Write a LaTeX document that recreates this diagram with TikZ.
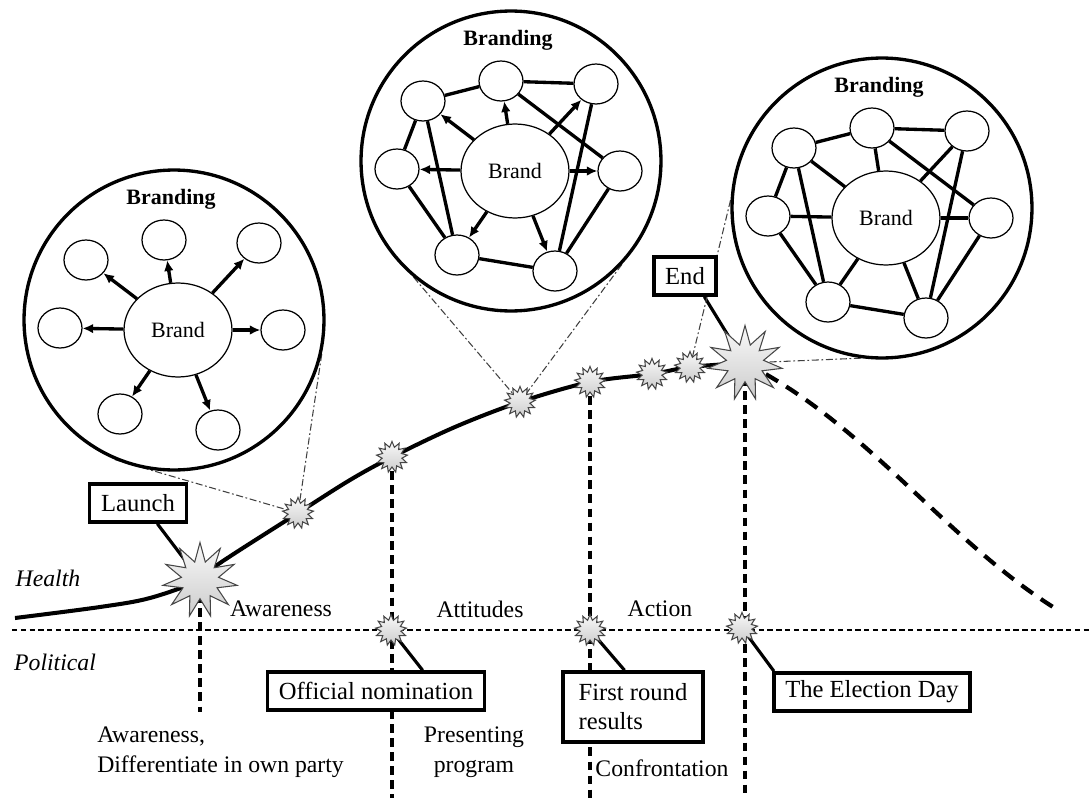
\documentclass[tikz,border=0pt]{standalone}
\usepackage{fontspec}
\setmainfont{Liberation Serif}
\usetikzlibrary{shapes.geometric,arrows.meta,backgrounds}

\begin{document}
\begin{tikzpicture}[x=0.02cm,y=-0.02cm,
  ring/.style={draw,circle,line width=1.9pt,minimum size=6cm,inner sep=0pt},
  brand/.style={draw,ellipse,fill=white,line width=0.7pt,minimum width=2.16cm,minimum height=1.88cm,inner sep=0pt,font=\fontsize{12.5}{14}\selectfont},
  item/.style={draw,ellipse,fill=white,line width=0.7pt,minimum width=0.88cm,minimum height=0.8cm,inner sep=0pt},
  link/.style={line width=1.9pt},
  push/.style={line width=1.9pt,-{Latex[length=6pt,width=5.5pt]}},
  burst/.style={draw=gray!55!black,line width=0.6pt,star,star points=13,star point ratio=1.55,minimum size=0.62cm,inner sep=0pt,top color=gray!5,bottom color=gray!40},
  bigburst/.style={burst,star points=11,star point ratio=2,minimum size=1.5cm},
  event/.style={draw,line width=2pt,fill=white,inner xsep=6.5pt,minimum height=0.76cm,font=\fontsize{14}{16.5}\selectfont},
  pointer/.style={line width=1.8pt},
  curve/.style={line width=2.3pt},
  stage/.style={line width=2.1pt,dash pattern=on 5pt off 3pt},
  zoomline/.style={gray!50!black,line width=0.6pt,dash pattern=on 4pt off 1.5pt on 1pt off 1.5pt}]
\fontsize{13.5}{17}\selectfont
\useasboundingbox (0,0) rectangle (1090,798);
\newcommand\brandmap[1]{
\node[ring] (ring#1) at (-4,-10) {};
\node[font=\fontsize{12.5}{14}\selectfont\bfseries] (title#1) at (-7,-131) {Branding};
\node[brand] (b) at (0,0) {Brand};
\node[item] (1) at (-92,-70) {};
\node[item] (2) at (-14,-90) {};
\node[item] (3) at (81,-87) {};
\node[item] (4) at (-118,-2) {};
\node[item] (5) at (105,0) {};
\node[item] (6) at (-58,84) {};
\node[item] (7) at (40,100) {};
}
\begin{scope}[shift={(178,330)}]
\brandmap{1}
\path[draw,push] (b) -- (1);
\path[draw,push] (b) -- (2);
\path[draw,push] (b) -- (3);
\path[draw,push] (b) -- (4);
\path[draw,push] (b) -- (5);
\path[draw,push] (b) -- (6);
\path[draw,push] (b) -- (7);
\end{scope}
\begin{scope}[shift={(515,171)}]
\brandmap{2}
\path[draw,push] (b) -- (1);
\path[draw,push] (b) -- (2);
\path[draw,push] (b) -- (3);
\path[draw,push] (b) -- (4);
\path[draw,push] (b) -- (5);
\path[draw,push] (b) -- (6);
\path[draw,push] (b) -- (7);
\path[draw,link] (1) -- (2);
\path[draw,link] (2) -- (3);
\path[draw,link] (2) -- (5);
\path[draw,link] (1) -- (4);
\path[draw,link] (4) -- (6);
\path[draw,link] (6) -- (7);
\path[draw,link] (3) -- (7);
\path[draw,link] (5) -- (7);
\path[draw,link] (6) -- (1);
\end{scope}
\begin{scope}[shift={(886,218)}]
\brandmap{3}
\path[draw,link] (1) -- (2);
\path[draw,link] (2) -- (3);
\path[draw,link] (2) -- (b);
\path[draw,link] (2) -- (5);
\path[draw,link] (3) -- (b);
\path[draw,link] (3) -- (7);
\path[draw,link] (1) -- (4);
\path[draw,link] (1) -- (b);
\path[draw,link] (1) -- (6);
\path[draw,link] (4) -- (b);
\path[draw,link] (4) -- (6);
\path[draw,link] (b) -- (6);
\path[draw,link] (b) -- (5);
\path[draw,link] (b) -- (7);
\path[draw,link] (6) -- (7);
\path[draw,link] (5) -- (7);
\end{scope}
\node[bigburst] (s0) at (200,580) {};
\node[burst] (s1) at (298,513) {};
\node[burst] (s2) at (392,457) {};
\node[burst] (s3) at (520,402) {};
\node[burst] (s4) at (590,382) {};
\node[burst] (s5) at (652,374) {};
\node[burst] (s6) at (690,367) {};
\node[bigburst] (s7) at (745,363) {};
\node[burst] (p1) at (391,630) {};
\node[burst] (p2) at (590,630) {};
\node[burst] (p3) at (742,628) {};
\node[event] (launch) at (138,503) {Launch};
\node[event] (stop) at (685,276) {End};
\node[event] (nomination) at (376,691) {Official nomination};
\node[event,align=left,minimum width=2.8cm,minimum height=1.4cm] (first) at (633,707) {First round\\results};
\node[event] (election) at (872,692) {The Election Day};
\node (health) at (48,578) {\itshape Health};
\node (political) at (55,662) {\itshape Political};
\node (awareness) at (281,609) {Awareness};
\node (attitudes) at (480,609) {Attitudes};
\node (action) at (660,609) {Action};
\node[align=left,anchor=west] (own) at (89,752) {Awareness,\\Differentiate in own party};
\node[align=center] (program) at (474,752) {Presenting\\program};
\node (confront) at (662,768) {Confrontation};
\coordinate (start) at (15,618);
\coordinate (tail) at (1053,607);
\coordinate (foot) at (200,712);
\coordinate (bottom) at (0,798);
\coordinate (lineL) at (12,630);
\coordinate (lineR) at (1090,630);
\begin{pgfonlayer}{background}
\draw[curve] plot[smooth,tension=0.55] coordinates {(start) (100,607) (150,598) (s0.center) (220,563) (s1.center) (350,480) (s2.center) (455,427) (s3.center) (s4.center) (s5.center) (s6.center) (s7.center)};
\draw[line width=2.4pt,dash pattern=on 8pt off 5.5pt] (s7.center) .. controls +(120,60) and +(-110,-70) .. (tail);
\draw[stage] (s0.center) -- (foot);
\draw[stage] (s2.center) -- (s2 |- bottom);
\draw[stage] (s4.center) -- (s4 |- bottom);
\draw[stage] (s7.center) -- (s7 |- bottom);
\draw[line width=0.7pt,dash pattern=on 3pt off 2pt] (lineL) -- (lineR);
\draw[pointer] (launch.-47) -- (s0.center);
\draw[pointer] (stop.-47) -- (s7.center);
\draw[pointer] (nomination.24) -- (p1.center);
\draw[pointer] (first.103) -- (p2.center);
\draw[pointer] (election.168) -- (p3.center);
\draw[zoomline] (ring1.247) -- (s1.center);
\draw[zoomline] (ring1.-13) -- (s1.center);
\draw[zoomline] (ring2.230) -- (s3.center);
\draw[zoomline] (ring2.-43) -- (s3.center);
\draw[zoomline] (ring3.177) -- (s6.center);
\draw[zoomline] (ring3.262) -- (s7.center);
\end{pgfonlayer}
\end{tikzpicture}
\end{document}
